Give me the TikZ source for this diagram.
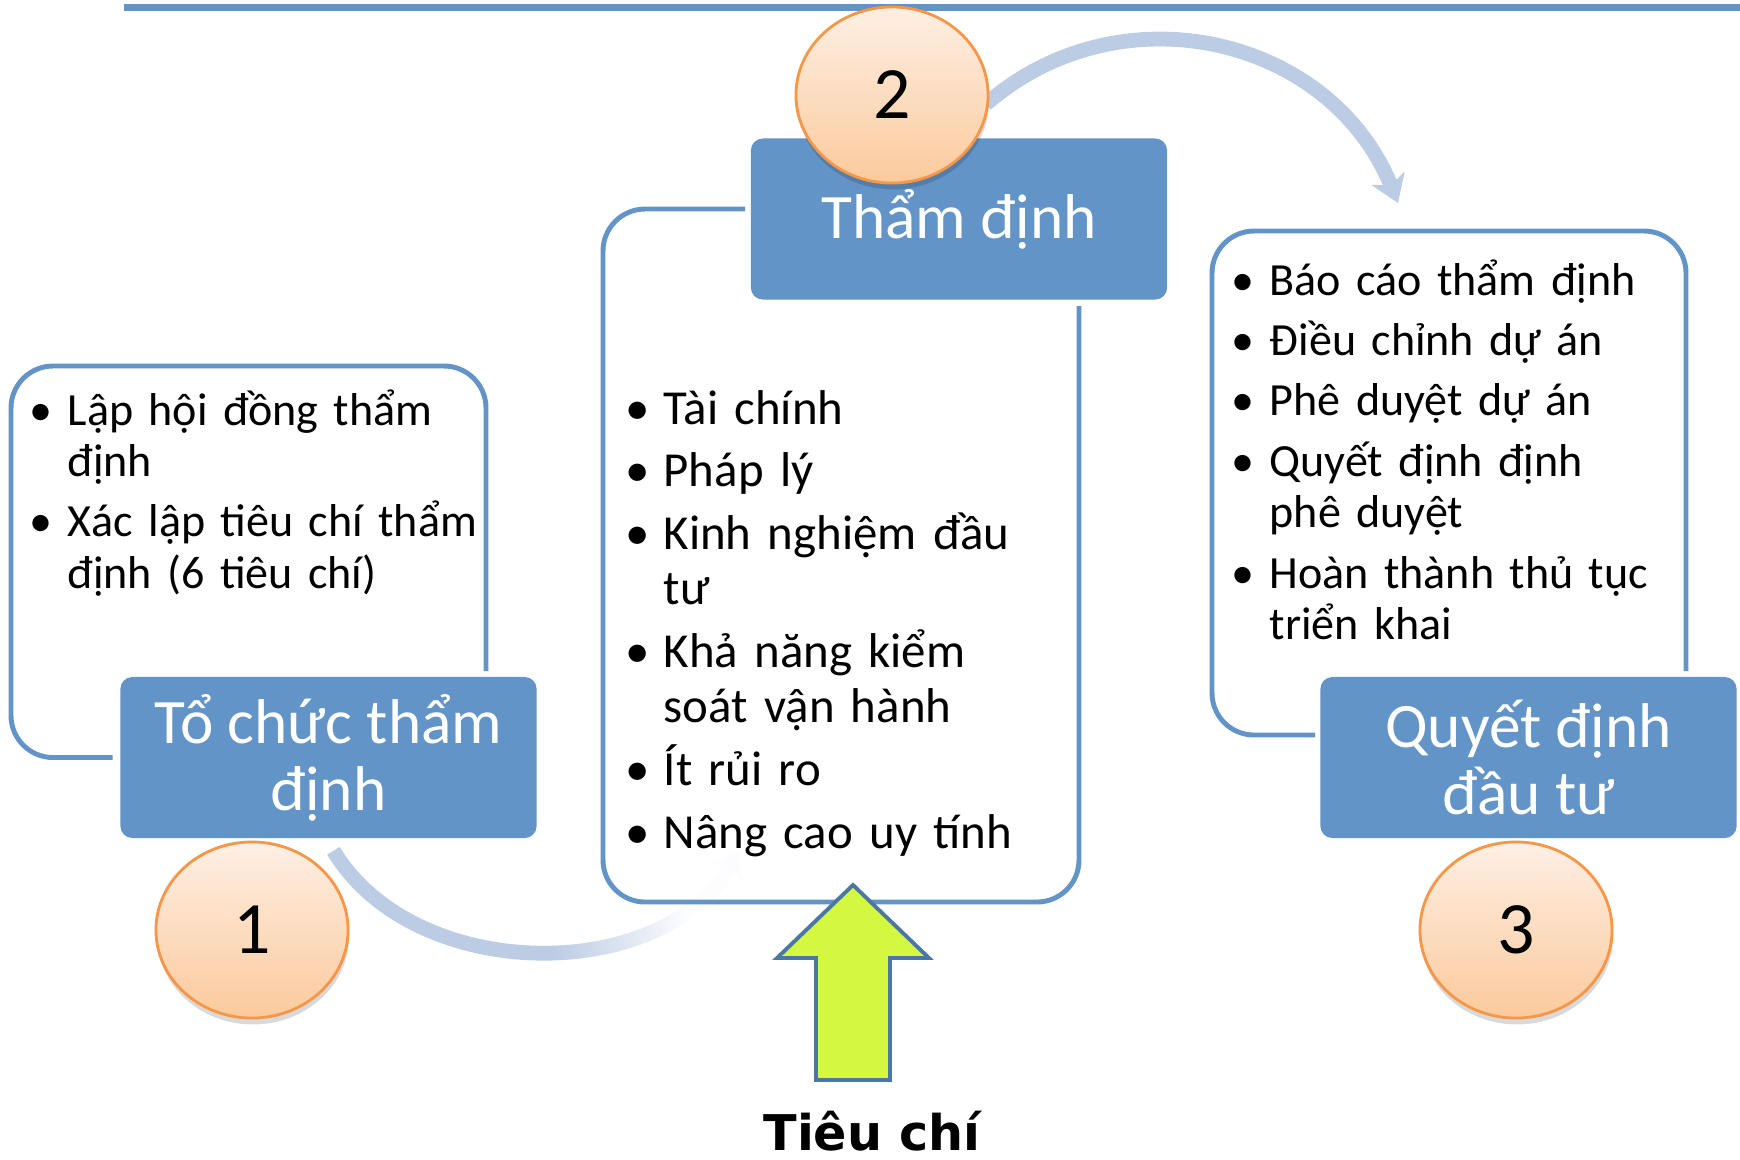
\documentclass[tikz,border=0pt]{standalone}
\usepackage{fontspec}
\setmainfont{Carlito}
\newfontfamily\labelfont{DejaVu Sans}
\usetikzlibrary{arrows.meta, shapes.geometric, shadows, fadings, backgrounds, positioning}

\definecolor{boxblue}{RGB}{98,148,200}
\definecolor{bandblue}{RGB}{187,204,228}
\definecolor{peachtop}{RGB}{254,239,228}
\definecolor{peachbot}{RGB}{251,202,156}
\definecolor{peachline}{RGB}{247,150,70}
\definecolor{limefill}{RGB}{212,247,64}
\definecolor{limeline}{RGB}{74,119,163}

% fading for the lower curved arrow
\pgfdeclarehorizontalshading{bandfadeshade}{100bp}{color(0bp)=(white); color(52bp)=(white); color(68bp)=(black!97); color(100bp)=(black!97)}
\pgfdeclarefading{bandfade}{\pgfuseshading{bandfadeshade}}

\newlength\bulind
\setlength\bulind{0.38cm}
\newcommand{\litem}[1]{\hangindent=\bulind\hangafter=1\noindent\makebox[\bulind][l]{\textbullet}#1}

\begin{document}
\begin{tikzpicture}[
            x=0.01cm, y=0.01cm,
            boxframe/.style={draw=boxblue, line width=1.4pt, rounded corners=0.42cm},
            titlebox/.style={rectangle, fill=boxblue, rounded corners=0.12cm, text=white, align=center, font=\fontsize{18}{19}\selectfont, minimum width=4.16cm, minimum height=1.61cm},
            stepnum/.style={ellipse, draw=peachline, line width=0.8pt, top color=peachtop, bottom color=peachbot, minimum width=1.92cm, minimum height=1.76cm, font=\fontsize{21}{21}\selectfont, drop shadow={shadow xshift=0.3pt, shadow yshift=-1.8pt, fill=black, opacity=0.15}},
            listtext/.style={anchor=base west, inner sep=0pt, align=left},
            band/.style={draw=bandblue, line width=4.2pt, -{Stealth[length=7.5pt, width=10pt, inset=2pt]}},
            critarrow/.style={fill=limefill, draw=limeline, line width=1.1pt, line join=miter}
            ]
            \useasboundingbox (0,0) rectangle (1740,-1159);

            % Top rule
            \coordinate (rulestart) at (124,-7);
            \coordinate (ruleend) at (1740,-7);
            \draw[boxblue, line width=2pt] (rulestart) -- (ruleend);

            % Step titles
            \node[titlebox] (title1) at (328.5,-757.5) {Tổ chức thẩm\\định};
            \node[titlebox] (title2) at (959,-219) {Thẩm định};
            \node[titlebox] (title3) at (1528.5,-757.5) {Quyết định\\đầu tư};

            % Step numbers
            \node[stepnum] (num1) at (252,-930) {1};
            \node[stepnum] (num2) at (892,-95) {2};
            \node[stepnum] (num3) at (1516,-930) {3};

            % Frames
            \draw[boxframe] ([xshift=-2pt]title1.west) -- (11,-757.5) -- (11,-366) -- (486,-366) -- (486,-671);
            \draw[boxframe] (745,-209) -- (603,-209) -- (603,-902) -- (1079,-902) -- (1079,-306);
            \draw[boxframe] (1315,-735) -- (1212,-735) -- (1212,-231) -- (1686,-231) -- (1686,-671);

            % Lists
            \node[listtext, text width=4.8cm, font=\fontsize{13.1}{14.6}\selectfont] (list1) at (29,-425) {\setlength\parskip{2.6pt}%
                \litem{Lập hội đồng thẩm\newline định}\par
                \litem{Xác lập tiêu chí thẩm\newline định (6 tiêu chí)}\par};
            \node[listtext, text width=4.6cm, font=\fontsize{13.9}{15.6}\selectfont] (list2) at (625,-424) {\setlength\parskip{2.3pt}%
                \litem{Tài chính}\par
                \litem{Pháp lý}\par
                \litem{Kinh nghiệm đầu\newline tư}\par
                \litem{Khả năng kiểm\newline soát vận hành}\par
                \litem{Ít rủi ro}\par
                \litem{Nâng cao uy tính}\par};
            \node[listtext, text width=4.8cm, font=\fontsize{13.1}{14.6}\selectfont] (list3) at (1231,-295) {\setlength\parskip{2.6pt}%
                \litem{Báo cáo thẩm định}\par
                \litem{Điều chỉnh dự án}\par
                \litem{Phê duyệt dự án}\par
                \litem{Quyết định định\newline phê duyệt}\par
                \litem{Hoàn thành thủ tục\newline triển khai}\par};

            % Curved arrows
            \begin{scope}[on background layer]
            \coordinate (arc1start) at ([shift={(5,-12)}]title1.south);
            \coordinate (arc1end) at (740,-850);
            \draw[band, path fading=bandfade] (arc1start) to[out=-59, in=-120, looseness=0.98] (arc1end);
            \coordinate (arc2start) at ([shift={(94,-9)}]num2.center);
            \coordinate (arc2end) at (1398,-203);
            \draw[band] (arc2start) to[out=41, in=112, looseness=1.08] (arc2end);
            \end{scope}

            % Criteria arrow
            \coordinate (critbase) at (853,-1080);
            \draw[critarrow] (critbase) ++(-37,0) -- ++(0,122) -- ++(-39,0) -- ++(76,73) -- ++(76,-73) -- ++(-39,0) -- ++(0,-122) -- cycle;
            \node[anchor=base, inner sep=0pt, font=\fontsize{14}{16}\selectfont\labelfont\bfseries] (critlabel) at (872,-1150) {Tiêu chí};

        \end{tikzpicture}
\end{document}
